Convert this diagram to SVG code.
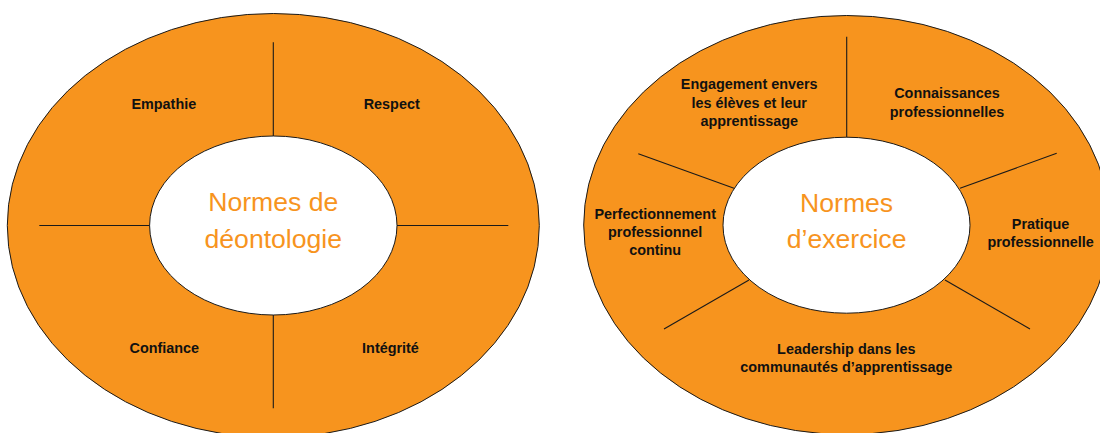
<svg xmlns="http://www.w3.org/2000/svg" width="1100" height="433" viewBox="0 0 1100 433">
<style>
.outer{fill:#F7941E;stroke:#1a1a1a;stroke-width:1}
.inner{fill:#FFFFFF;stroke:#1a1a1a;stroke-width:1}
.spoke{stroke:#1a1a1a;stroke-width:1.1;fill:none}
.title{font-family:"Liberation Sans",Arial,Helvetica,sans-serif;font-size:26.6px;fill:#F7941E;text-anchor:middle}
.lbl{font-family:"Liberation Sans",Arial,Helvetica,sans-serif;font-size:14.4px;font-weight:bold;fill:#111111;text-anchor:middle}
</style>
<rect width="1100" height="433" fill="#FFFFFF"/>
<g id="wheel-deontologie">
<ellipse class="outer" cx="273.3" cy="225.5" rx="266" ry="212"/>
<ellipse class="inner" cx="273.3" cy="225.5" rx="123.7" ry="89.5"/>
</g>
<g id="wheel-exercice">
<ellipse class="outer" cx="846.7" cy="225" rx="263" ry="209.5"/>
<ellipse class="inner" cx="846.5" cy="225.2" rx="123.5" ry="88"/>
</g>
<g id="connectors">
<line class="spoke" x1="273.3" y1="42.3" x2="273.3" y2="136"/>
<line class="spoke" x1="273.3" y1="315" x2="273.3" y2="408.3"/>
<line class="spoke" x1="39.3" y1="225.5" x2="149.6" y2="225.5"/>
<line class="spoke" x1="397" y1="225.5" x2="508.3" y2="225.5"/>
<line class="spoke" x1="846.7" y1="36.7" x2="846.7" y2="137.2"/>
<line class="spoke" x1="638.3" y1="153.7" x2="734" y2="188.3"/>
<line class="spoke" x1="1056.7" y1="153.3" x2="960" y2="188.3"/>
<line class="spoke" x1="749" y1="280" x2="664" y2="329"/>
<line class="spoke" x1="945" y1="280" x2="1030" y2="329"/>
</g>
<g id="title-deontologie">
<text class="title" x="273.3" y="211">Normes de</text>
<text class="title" x="273.3" y="248.3">déontologie</text>
</g>
<g id="title-exercice">
<text class="title" x="846.6" y="211.5">Normes</text>
<text class="title" x="846.6" y="248.3">d’exercice</text>
</g>
<g id="node-empathie"><text class="lbl" x="163.8" y="109">Empathie</text></g>
<g id="node-respect"><text class="lbl" x="391.7" y="109">Respect</text></g>
<g id="node-confiance"><text class="lbl" x="164.3" y="352.7">Confiance</text></g>
<g id="node-integrite"><text class="lbl" x="390.5" y="352.7">Intégrité</text></g>
<g id="node-engagement">
<text class="lbl" x="749.2" y="89.3">Engagement envers</text>
<text class="lbl" x="749.2" y="107.5">les élèves et leur</text>
<text class="lbl" x="749.2" y="125.5">apprentissage</text>
</g>
<g id="node-connaissances">
<text class="lbl" x="947" y="97.7">Connaissances</text>
<text class="lbl" x="947" y="116.7">professionnelles</text>
</g>
<g id="node-pratique">
<text class="lbl" x="1040.6" y="229.3">Pratique</text>
<text class="lbl" x="1040.6" y="247.3">professionnelle</text>
</g>
<g id="node-leadership">
<text class="lbl" x="846.3" y="354">Leadership dans les</text>
<text class="lbl" x="846.3" y="372.3">communautés d’apprentissage</text>
</g>
<g id="node-perfectionnement">
<text class="lbl" x="655.2" y="219">Perfectionnement</text>
<text class="lbl" x="655.2" y="237.3">professionnel</text>
<text class="lbl" x="655.2" y="255">continu</text>
</g>
</svg>
